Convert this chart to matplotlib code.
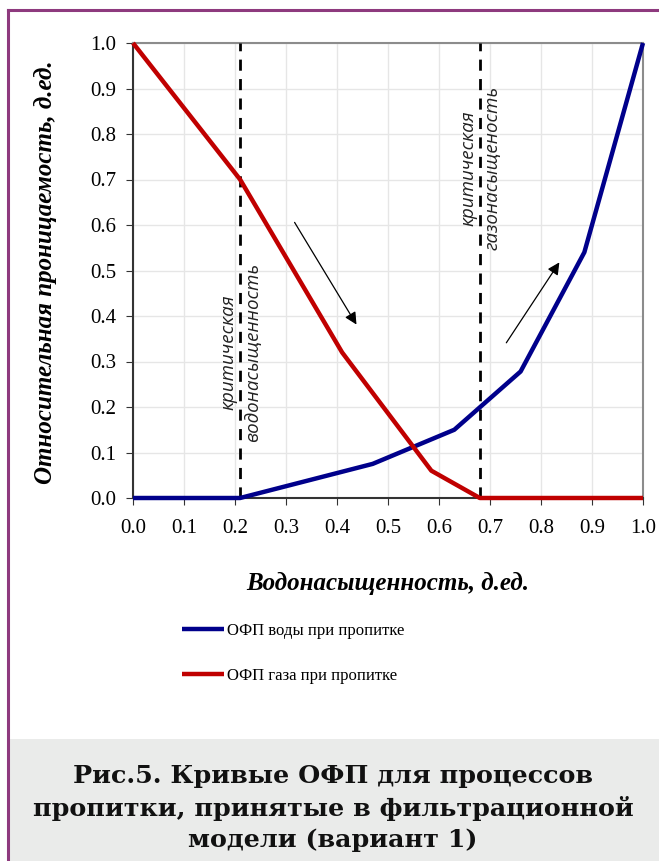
import matplotlib.pyplot as plt
from matplotlib.patches import Rectangle
from matplotlib.lines import Line2D

# data
water_x = [0.0, 0.21, 0.47, 0.63, 0.76, 0.885, 1.0]
water_y = [0.0, 0.0, 0.075, 0.15, 0.278, 0.54, 1.0]
gas_x = [0.0, 0.21, 0.41, 0.585, 0.68, 1.0]
gas_y = [1.0, 0.70, 0.32, 0.06, 0.0, 0.0]
crit_x = [0.21, 0.68]
ticks = [0.0, 0.1, 0.2, 0.3, 0.4, 0.5, 0.6, 0.7, 0.8, 0.9, 1.0]
tick_labels = ['0.0', '0.1', '0.2', '0.3', '0.4', '0.5', '0.6', '0.7', '0.8', '0.9', '1.0']

W, H = 659, 861
fig = plt.figure(figsize=(W / 100, H / 100), dpi=100)
fig.patch.set_facecolor('white')

# frame + caption background
fig.add_artist(Rectangle((9 / W, 0), 1, (H - 739) / H, transform=fig.transFigure,
                         facecolor='#eaebea', edgecolor='none'))
purple = '#8e3a7e'
fig.add_artist(Line2D([7.5 / W, 1], [1 - 10 / H, 1 - 10 / H], color=purple, lw=2.2))
fig.add_artist(Line2D([7.5 / W, 7.5 / W], [0, 1 - 10 / H], color=purple, lw=2.2))

ax = fig.add_axes([133 / W, 1 - 498 / H, 510 / W, 455 / H])
ax.set_xlim(0, 1)
ax.set_ylim(0, 1)
ax.grid(True, color='#e6e6e6', lw=1)
ax.set_axisbelow(True)
ax.set_xticks(ticks)
ax.set_yticks(ticks)
ax.set_xticklabels(tick_labels, family='Liberation Serif', fontsize=15)
ax.set_yticklabels(tick_labels, family='Liberation Serif', fontsize=15)
ax.tick_params(direction='out', length=5, color='#333333', pad=7)
ax.tick_params(axis='x', pad=10)
for s in ['top', 'right']:
    ax.spines[s].set_color('#8c8c8c')
    ax.spines[s].set_linewidth(1.5)
for s in ['left', 'bottom']:
    ax.spines[s].set_color('#333333')
    ax.spines[s].set_linewidth(1.5)

ax.plot(water_x, water_y, color='#00008b', lw=3.2, solid_capstyle='butt', zorder=4,
        clip_on=False, label='ОФП воды при пропитке')
ax.plot(gas_x, gas_y, color='#c00000', lw=3.2, solid_capstyle='butt', zorder=5,
        clip_on=False, label='ОФП газа при пропитке')
for xv in crit_x:
    ax.axvline(xv, color='black', lw=2, ls=(0, (4, 3)), zorder=3)

txt = dict(family='Open Sans', style='italic', fontsize=13.5, rotation=90,
           va='center', color='#222222')
ax.text(0.205, 0.32, 'критическая', ha='right', **txt)
ax.text(0.218, 0.32, 'водонасыщенность', ha='left', **txt)
ax.text(0.675, 0.725, 'критическая', ha='right', **txt)
ax.text(0.688, 0.725, 'газонасыщеность', ha='left', **txt)

ax.annotate('', xy=(0.441, 0.376), xytext=(0.314, 0.611),
            arrowprops=dict(arrowstyle='-|>', color='black', lw=0.9, mutation_scale=18))
ax.annotate('', xy=(0.839, 0.523), xytext=(0.729, 0.336),
            arrowprops=dict(arrowstyle='-|>', color='black', lw=0.9, mutation_scale=18))

fig.text(388 / W, 1 - 583 / H, 'Водонасыщенность, д.ед.', family='Liberation Serif',
         style='italic', weight='bold', fontsize=18, ha='center', va='center')
fig.text(45 / W, 1 - 272 / H, 'Относительная проницаемость, д.ед.', family='Liberation Serif',
         style='italic', weight='bold', fontsize=18, ha='center', va='center', rotation=90)

leg = fig.legend(loc='upper left', bbox_to_anchor=(167 / W, 1 - 608 / H), frameon=False,
                 prop={'family': 'Liberation Serif', 'size': 12}, handlelength=2.5,
                 handletextpad=0.2, labelspacing=1.75)

fig.text(333 / W, 1 - 808 / H, 'Рис.5. Кривые ОФП для процессов\nпропитки, принятые в фильтрационной\nмодели (вариант 1)',
         family='DejaVu Serif', weight='bold', fontsize=18.3, ha='center', va='center',
         linespacing=1.41, color='#111111')

fig.savefig('out.png', dpi=100)
